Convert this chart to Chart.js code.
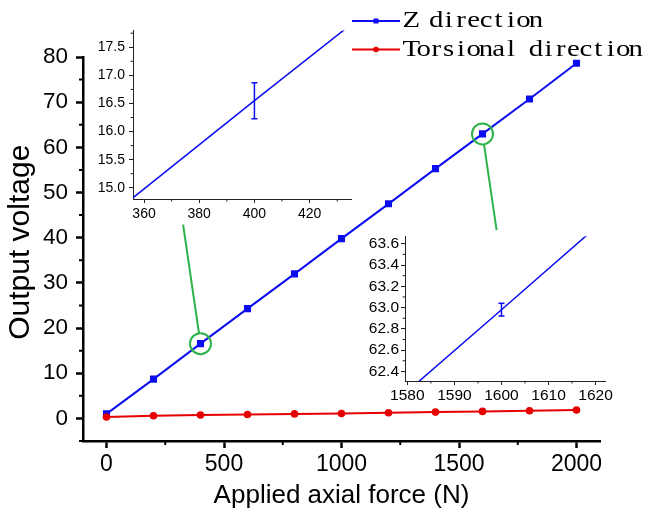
<!DOCTYPE html>
<html>
<head>
<meta charset="utf-8">
<script src="https://cdn.jsdelivr.net/npm/chart.js@4.4.0/dist/chart.umd.min.js"></script>
<style>
  html, body { margin: 0; padding: 0; background: #fff; }
  #wrap { position: relative; width: 646px; height: 511px; }
  canvas { position: absolute; }
</style>
</head>
<body>
<div id="wrap">
  <canvas id="main" width="646" height="511" style="left:0;top:0"></canvas>
  <canvas id="inset1" width="290" height="205" style="left:80px;top:18px"></canvas>
  <canvas id="inset2" width="270" height="180" style="left:355px;top:225px"></canvas>
</div>
<script>
// values
const force = [0, 200, 400, 600, 800, 1000, 1200, 1400, 1600, 1800, 2000];
const zDirection = [1.0, 8.7, 16.55, 24.3, 32.0, 39.8, 47.5, 55.3, 62.98, 70.7, 78.6];
const torsional = [0.3, 0.6, 0.75, 0.85, 1.0, 1.1, 1.25, 1.4, 1.55, 1.7, 1.85];

const xTicks = [0, 500, 1000, 1500, 2000];
const yTicks = [0, 10, 20, 30, 40, 50, 60, 70, 80];

// zoomed views, one error bar each
const errForce = [400, 1600];
const errSize = [0.32, 0.06];
const inset1XTicks = [360, 380, 400, 420];
const inset1YTicks = [15.0, 15.5, 16.0, 16.5, 17.0, 17.5];
const inset2XTicks = [1580, 1590, 1600, 1610, 1620];
const inset2YTicks = [62.4, 62.6, 62.8, 63.0, 63.2, 63.4, 63.6];

// where the green connectors end (main plot data units)
const linkEnds = [[326, 42.9], [1660, 41.7]];

const BLUE = '#0c0cf0';
const RED = '#e60000';
const GREEN = '#2db34a';
const SANS = '"Liberation Sans", Arial, sans-serif';

const zPoints = force.map((f, i) => ({ x: f, y: zDirection[i] }));
const tPoints = force.map((f, i) => ({ x: f, y: torsional[i] }));

// minor ticks halfway between the major ones
const minorTicks = {
  id: 'minorTicks',
  afterDraw(chart, args, opts) {
    const ctx = chart.ctx;
    ctx.save();
    ctx.strokeStyle = opts.color;
    ctx.lineWidth = opts.width;
    ctx.beginPath();
    ['x', 'y'].forEach(id => {
      const s = chart.scales[id];
      const vals = s.ticks.map(t => t.value);
      const step = vals[1] - vals[0];
      const minors = [vals[0] - step / 2].concat(vals.map(v => v + step / 2));
      minors.forEach(v => {
        if (v < s.min || v > s.max) return;
        const p = s.getPixelForValue(v);
        if (id === 'x') { ctx.moveTo(p, s.top); ctx.lineTo(p, s.top + opts.len); }
        else { ctx.moveTo(s.right, p); ctx.lineTo(s.right - opts.len, p); }
      });
    });
    ctx.stroke();
    ctx.restore();
  }
};

// legend in the top right corner, fixed-pitch serif text
const sideLegend = {
  id: 'sideLegend',
  afterDraw(chart, args, opts) {
    const ctx = chart.ctx;
    ctx.save();
    chart.data.datasets.forEach((ds, i) => {
      const y = opts.top + i * opts.gap;
      ctx.strokeStyle = ds.borderColor;
      ctx.lineWidth = 2;
      ctx.beginPath();
      ctx.moveTo(opts.left, y);
      ctx.lineTo(opts.left + opts.len, y);
      ctx.stroke();
      ctx.fillStyle = ds.borderColor;
      const mx = opts.left + opts.len / 2;
      if (ds.pointStyle === 'rect') ctx.fillRect(mx - 2.5, y - 2.5, 5, 5);
      else { ctx.beginPath(); ctx.arc(mx, y, 2.8, 0, Math.PI * 2); ctx.fill(); }
      ctx.fillStyle = '#000';
      ctx.font = '24px "Liberation Serif", serif';
      ctx.textAlign = 'center';
      ctx.textBaseline = 'alphabetic';
      const x0 = opts.left + opts.len + 5;
      [...ds.label].forEach((c, j) => {
        ctx.save();
        ctx.translate(x0 + (j + 0.5) * opts.pitch, y + 6);
        ctx.scale(1.2, 1);
        ctx.fillText(c, 0, 0);
        ctx.restore();
      });
    });
    ctx.restore();
  }
};

// y title drawn a little above the axis middle, as in the figure
const yTitle = {
  id: 'yTitle',
  afterDraw(chart, args, opts) {
    const ctx = chart.ctx, ys = chart.scales.y;
    ctx.save();
    ctx.translate(opts.x, ys.getPixelForValue(opts.at));
    ctx.rotate(-Math.PI / 2);
    ctx.font = opts.size + 'px ' + SANS;
    ctx.fillStyle = '#000';
    ctx.textAlign = 'center';
    ctx.textBaseline = 'middle';
    ctx.fillText(opts.text, 0, 0);
    ctx.restore();
  }
};

// green circles on the zoomed points and lines towards the insets
const zoomLinks = {
  id: 'zoomLinks',
  afterDraw(chart, args, opts) {
    const ctx = chart.ctx, xs = chart.scales.x, ys = chart.scales.y;
    ctx.save();
    ctx.strokeStyle = GREEN;
    ctx.lineWidth = 2;
    errForce.forEach((f, k) => {
      const i = force.indexOf(f);
      const cx = xs.getPixelForValue(f), cy = ys.getPixelForValue(zDirection[i]);
      ctx.beginPath();
      ctx.arc(cx, cy, opts.r, 0, Math.PI * 2);
      ctx.stroke();
      const ex = xs.getPixelForValue(linkEnds[k][0]), ey = ys.getPixelForValue(linkEnds[k][1]);
      const d = Math.hypot(ex - cx, ey - cy);
      ctx.beginPath();
      ctx.moveTo(cx + (ex - cx) * opts.r / d, cy + (ey - cy) * opts.r / d);
      ctx.lineTo(ex, ey);
      ctx.stroke();
    });
    ctx.restore();
  }
};

// error bar on the zoomed point
const errorBar = {
  id: 'errorBar',
  afterDatasetsDraw(chart, args, opts) {
    const ctx = chart.ctx, xs = chart.scales.x, ys = chart.scales.y;
    const f = errForce[opts.k], e = errSize[opts.k];
    const v = zDirection[force.indexOf(f)];
    const px = xs.getPixelForValue(f);
    const t = ys.getPixelForValue(v + e), b = ys.getPixelForValue(v - e);
    ctx.save();
    ctx.strokeStyle = BLUE;
    ctx.lineWidth = 1.5;
    ctx.beginPath();
    ctx.moveTo(px, t); ctx.lineTo(px, b);
    ctx.moveTo(px - 3, t); ctx.lineTo(px + 3, t);
    ctx.moveTo(px - 3, b); ctx.lineTo(px + 3, b);
    ctx.stroke();
    ctx.restore();
  }
};

function axis(min, max, ticks, fmt, o) {
  return {
    type: 'linear', min: min, max: max,
    afterBuildTicks: s => { s.ticks = ticks.map(v => ({ value: v })); },
    afterFit: s => { if (s.isHorizontal()) s.height = o.size; else s.width = o.size; },
    ticks: { color: '#000', font: { family: SANS, size: o.font }, padding: o.pad, maxRotation: 0, autoSkip: false, callback: fmt },
    grid: { drawOnChartArea: false, drawTicks: true, tickLength: o.tick, tickWidth: o.lw, tickColor: o.color },
    border: { display: true, color: o.color, width: o.lw },
    title: o.title || { display: false }
  };
}

new Chart(document.getElementById('main'), {
  type: 'line',
  data: {
    datasets: [
      { label: 'Z direction', data: zPoints, borderColor: BLUE, backgroundColor: BLUE,
        borderWidth: 2, pointStyle: 'rect', pointRadius: 3.6, order: 1 },
      { label: 'Torsional direction', data: tPoints, borderColor: RED, backgroundColor: RED,
        borderWidth: 2, pointStyle: 'circle', pointRadius: 2.8, order: 0 }
    ]
  },
  options: {
    responsive: false, animation: false, devicePixelRatio: 1,
    layout: { padding: { left: 0, top: 57, right: 46, bottom: 0 } },
    plugins: {
      legend: { display: false }, tooltip: { enabled: false },
      minorTicks: { len: 4, width: 2, color: '#000' },
      sideLegend: { left: 352, top: 21, gap: 28.5, len: 48, pitch: 12.47 },
      yTitle: { text: 'Output voltage', x: 21, at: 39, size: 30 },
      zoomLinks: { r: 10.5 }
    },
    scales: {
      x: axis(-100, 2100, xTicks, v => String(v),
        { size: 70, font: 23, pad: 3, tick: 7, lw: 2.5, color: '#000',
          title: { display: true, text: 'Applied axial force (N)', color: '#000',
                   font: { family: SANS, size: 26 }, padding: { top: 0, bottom: 0 } } }),
      y: axis(-5, 80, yTicks, v => String(v),
        { size: 83, font: 22.5, pad: 8, tick: 7, lw: 2.5, color: '#000' })
    }
  },
  plugins: [minorTicks, sideLegend, yTitle, zoomLinks]
});

function inset(id, k, xr, yr, xt, yt, o) {
  new Chart(document.getElementById(id), {
    type: 'line',
    data: { datasets: [{ data: zPoints, borderColor: BLUE, borderWidth: 1.5, pointRadius: 0, clip: 0 }] },
    options: {
      responsive: false, animation: false, devicePixelRatio: 1,
      layout: { padding: o.padding },
      plugins: {
        legend: { display: false }, tooltip: { enabled: false },
        minorTicks: { len: 2.5, width: 1, color: '#222' },
        errorBar: { k: k }
      },
      scales: {
        x: axis(xr[0], xr[1], xt, v => String(v), { size: o.xh, font: o.font, pad: o.xpad, tick: 4, lw: 1, color: '#222' }),
        y: axis(yr[0], yr[1], yt, v => v.toFixed(1), { size: o.yw, font: o.font, pad: o.ypad, tick: 4, lw: 1, color: '#222' })
      }
    },
    plugins: [minorTicks, errorBar]
  });
}

inset('inset1', 0, [356, 435], [14.8, 17.8], inset1XTicks, inset1YTicks,
  { padding: { left: 0, top: 10, right: 19, bottom: 0 }, xh: 24, yw: 53, font: 14, xpad: 3, ypad: 4 });
inset('inset2', 1, [1579.5, 1622], [62.31, 63.67], inset2XTicks, inset2YTicks,
  { padding: { left: 0, top: 10, right: 20, bottom: 0 }, xh: 24, yw: 50, font: 15.5, xpad: 1, ypad: 2 });
</script>
</body>
</html>
